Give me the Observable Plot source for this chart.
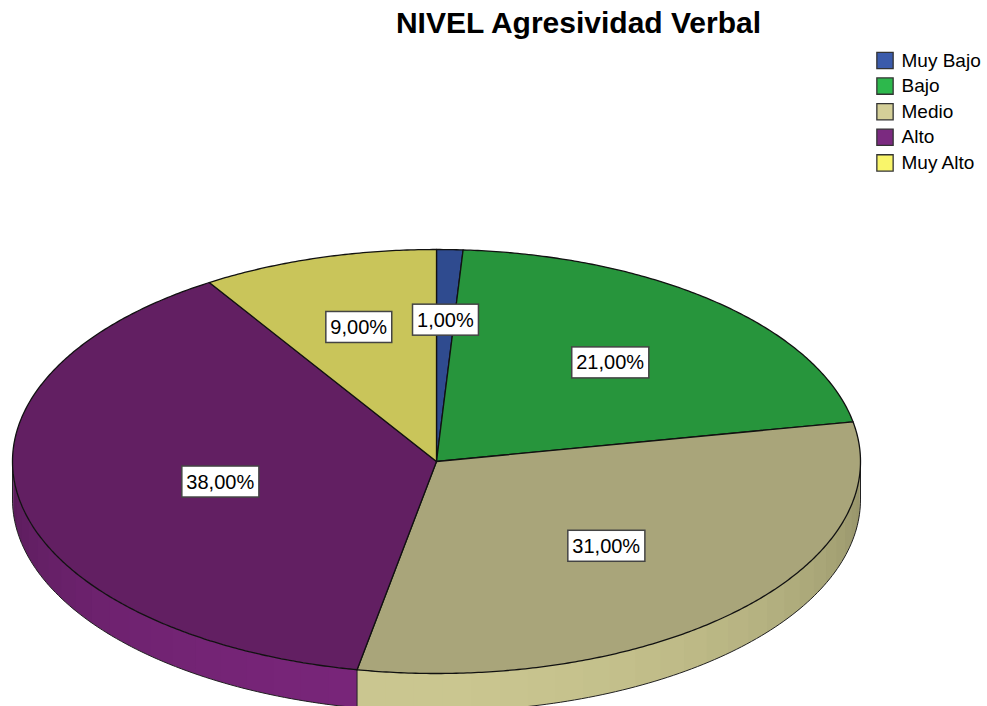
<!DOCTYPE html>
<html>
<head>
<meta charset="utf-8">
<script src="https://cdn.jsdelivr.net/npm/d3@7"></script>
<script src="https://cdn.jsdelivr.net/npm/@observablehq/plot@0.6"></script>
<style>
  html, body { margin: 0; padding: 0; background: #fff; overflow: hidden; }
  #title { height: 46px; width: 987px; box-sizing: border-box; padding-left: 170px;
    text-align: center; font: bold 30px/46px "Liberation Sans", Arial, sans-serif; color: #000; white-space: nowrap; }
</style>
</head>
<body>
<div id="title">NIVEL Agresividad Verbal</div>
<div id="chart"></div>
<script>
// ---- data ----
const categories = ["Muy Bajo", "Bajo", "Medio", "Alto", "Muy Alto"];
const percents = [1, 21, 31, 38, 9];
// ---- colours ----
const topColors = ["#2f4b8f", "#27953c", "#a9a57a", "#621f62", "#c9c55a"];
const sideLight = ["#3a5aa8", "#2db24b", "#cac690", "#782579", "#efeb6c"];
const sideDark  = ["#27407a", "#1f7a31", "#98956b", "#561b57", "#aaa64c"];
const legendColors = ["#3b5bab", "#2db84c", "#d4cf98", "#7b2a80", "#f9f56a"];

// ---- layout (page pixels) ----
const W = 987, H = 660, TOP = 46;
const cx = 436, cy = 461, rx = 424, ry = 212, depth = 38;
const px = a => cx + rx * Math.sin(a);
const py = a => cy - ry * Math.cos(a);
const deg = Math.PI / 180;
const fmt = v => v.toFixed(2).replace(".", ",") + "%";

const arcs = d3.pie().sort(null).value(d => d)(percents);

const marks = [];

// side walls (front half only), drawn as shaded strips
arcs.forEach((a, i) => {
  const lo = Math.max(a.startAngle, 90 * deg), hi = Math.min(a.endAngle, 270 * deg);
  if (hi <= lo) return;
  const n = Math.max(1, Math.ceil((hi - lo) / (4 * deg)));
  for (let k = 0; k < n; k++) {
    const s = lo + (hi - lo) * k / n;
    const e = k === n - 1 ? hi : lo + (hi - lo) * (k + 1) / n + 0.6 * deg;
    const m = lo + (hi - lo) * (k + 0.5) / n;
    const f = Math.max(0, Math.cos(m - 185 * deg));
    const color = d3.interpolateRgb(sideDark[i], sideLight[i])(f);
    const pts = [];
    for (let j = 0; j <= 4; j++) { const t = s + (e - s) * j / 4; pts.push({x: px(t), y: py(t)}); }
    for (let j = 4; j >= 0; j--) { const t = s + (e - s) * j / 4; pts.push({x: px(t), y: py(t) + depth}); }
    marks.push(Plot.line(pts, {x: "x", y: "y", fill: color, stroke: "none"}));
  }
});

// outline of the wall
const bottomEdge = d3.range(90, 270.5, 1).map(t => ({x: px(t * deg), y: py(t * deg) + depth}));
marks.push(Plot.line(bottomEdge, {x: "x", y: "y", stroke: "#222", strokeWidth: 1}));
const verticals = [90 * deg, 270 * deg, ...arcs.map(a => a.startAngle).filter(t => t > 90 * deg && t < 270 * deg)];
marks.push(Plot.link(verticals, {x1: t => px(t), x2: t => px(t), y1: t => py(t), y2: t => py(t) + depth, stroke: "#222", strokeWidth: 1}));

// top faces
arcs.forEach((a, i) => {
  const pts = [{x: cx, y: cy}];
  const n = Math.max(2, Math.ceil((a.endAngle - a.startAngle) / (0.5 * deg)));
  for (let j = 0; j <= n; j++) {
    const t = a.startAngle + (a.endAngle - a.startAngle) * j / n;
    pts.push({x: px(t), y: py(t)});
  }
  pts.push({x: cx, y: cy});
  marks.push(Plot.line(pts, {x: "x", y: "y", fill: topColors[i], stroke: "#111", strokeWidth: 1.3, strokeLinejoin: "round"}));
});

// percentage labels at slice centroids
const centroid = a => {
  const h = (a.endAngle - a.startAngle) / 2, mid = (a.startAngle + a.endAngle) / 2;
  const d = 2 * Math.sin(h) / (3 * h);
  return {x: cx + rx * d * Math.sin(mid), y: cy - ry * d * Math.cos(mid)};
};
marks.push(Plot.text(arcs, {
  x: a => centroid(a).x, y: a => centroid(a).y, text: a => fmt(a.value),
  fontSize: 20, fill: "#000", fontFamily: "Liberation Sans, Arial, sans-serif"
}));

// legend
const legY = (d, i) => 60 + i * 25.6;
marks.push(Plot.dot(categories, {x: () => 884.5, y: legY, symbol: "square", r: 9.2, fill: d => d, stroke: "#333", strokeWidth: 1.3}));
marks.push(Plot.text(categories, {x: () => 901, y: legY, text: d => d, textAnchor: "start", fontSize: 19, fill: "#000", fontFamily: "Liberation Sans, Arial, sans-serif"}));

const svg = Plot.plot({
  width: W, height: H,
  marginTop: 0, marginRight: 0, marginBottom: 0, marginLeft: 0,
  x: {domain: [0, W], range: [0, W], axis: null},
  y: {domain: [TOP, TOP + H], range: [0, H], axis: null},
  color: {domain: categories, range: legendColors},
  style: {fontFamily: "Liberation Sans, Arial, sans-serif", background: "#fff"},
  marks
});
document.getElementById("chart").appendChild(svg);

// white boxes behind percentage labels
const labelGroup = svg.querySelectorAll('g[aria-label="text"]')[0];
if (labelGroup) {
  labelGroup.querySelectorAll("text").forEach(t => {
    const b = t.getBBox();
    const r = document.createElementNS("http://www.w3.org/2000/svg", "rect");
    r.setAttribute("x", b.x - 4.5);
    r.setAttribute("y", b.y - 4.5);
    r.setAttribute("width", b.width + 9);
    r.setAttribute("height", b.height + 9);
    r.setAttribute("fill", "#fff");
    r.setAttribute("stroke", "#444");
    r.setAttribute("stroke-width", 1.5);
    const tr = t.getAttribute("transform");
    if (tr) r.setAttribute("transform", tr);
    t.parentNode.insertBefore(r, t);
  });
}
</script>
</body>
</html>
